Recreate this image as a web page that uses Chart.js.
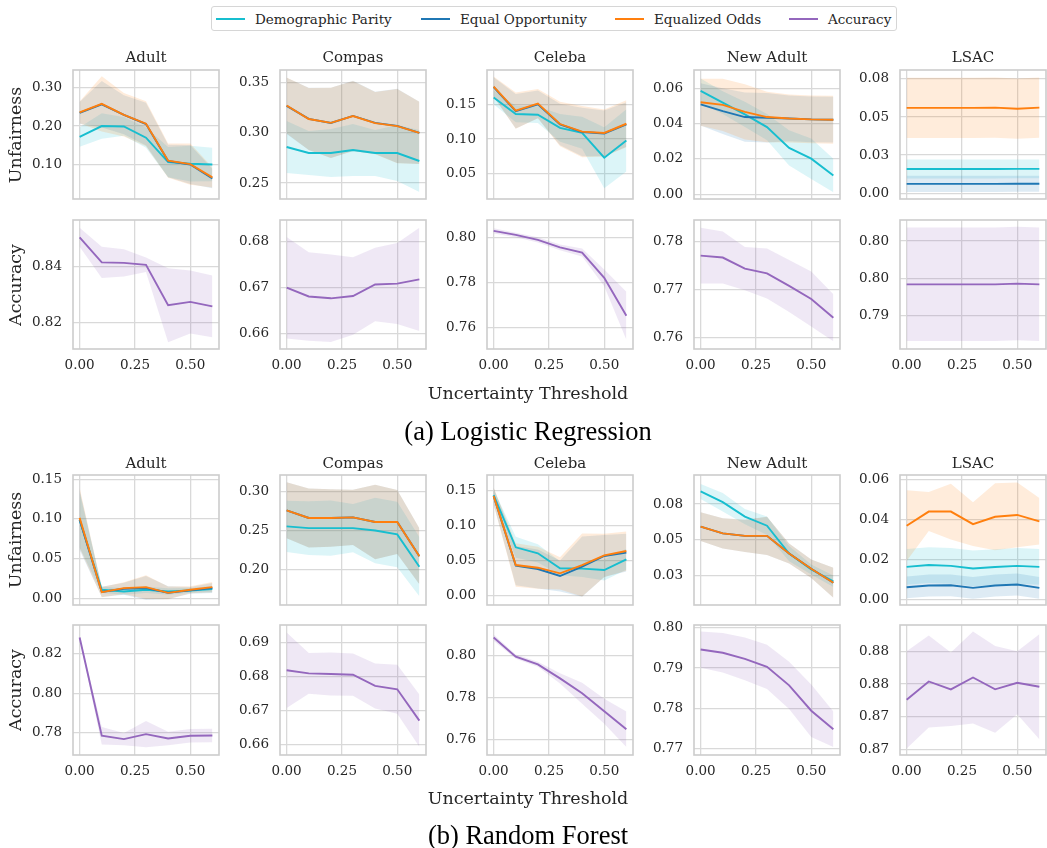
<!DOCTYPE html>
<html>
<head>
<meta charset="utf-8">
<script src="https://cdn.jsdelivr.net/npm/chart.js@4.4.0/dist/chart.umd.min.js"></script>
<style>
  html, body { margin: 0; padding: 0; background: #fff; }
  body { width: 1047px; height: 848px; position: relative; overflow: hidden;
         font-family: "DejaVu Serif", serif; color: #262626; }
  canvas { position: absolute; }
  .txt { position: absolute; white-space: nowrap; transform: translate(-50%, -50%); line-height: 1; }
  .title { font-size: 15px; }
  .axlabel { font-size: 17.5px; }
  .ylab { transform: translate(-50%, -50%) rotate(-90deg); }
  .caption { font-family: "Liberation Serif", "Times New Roman", serif; font-size: 26.5px; color: #000; }
  #legend { position: absolute; left: 211px; top: 6px; width: 686px; height: 25px;
            border: 1px solid #d6d6d6; border-radius: 3px; box-sizing: border-box; }
  .sw { position: absolute; top: 11px; width: 29px; height: 2px; }
  .lt { position: absolute; top: 4px; font-size: 13.5px; line-height: 1.2; }
</style>
</head>
<body>
<div id="legend"></div>
<script>
// x values and labels
const thresholds = [0, 0.1, 0.2, 0.3, 0.4, 0.5, 0.6];
const xTicks = [0, 0.25, 0.5];
const datasetNames = ["Adult", "Compas", "Celeba", "New Adult", "LSAC"];
const seriesNames = ["Demographic Parity", "Equal Opportunity", "Equalized Odds", "Accuracy"];
const modelNames = ["(a) Logistic Regression", "(b) Random Forest"];

// ---- Logistic Regression (rows: Adult, Compas, Celeba, New Adult, LSAC) ----
const lrDP = [
  [0.172, 0.200, 0.199, 0.170, 0.107, 0.103, 0.101],
  [0.286, 0.280, 0.280, 0.283, 0.280, 0.280, 0.272],
  [0.160, 0.136, 0.135, 0.116, 0.109, 0.073, 0.098],
  [0.0587, 0.0520, 0.0453, 0.0381, 0.0263, 0.0202, 0.0107],
  [0.0159, 0.0159, 0.0159, 0.0159, 0.0159, 0.0160, 0.0160]
];
const lrDPsd = [
  [0.025, 0.033, 0.024, 0.026, 0.039, 0.046, 0.043],
  [0.026, 0.022, 0.024, 0.026, 0.023, 0.028, 0.031],
  [0.010, 0.012, 0.012, 0.020, 0.023, 0.044, 0.045],
  [0.0070, 0.0065, 0.0072, 0.0075, 0.0100, 0.0115, 0.0095],
  [0.0062, 0.0062, 0.0062, 0.0062, 0.0062, 0.0062, 0.0062]
];
const lrEO = [
  [0.234, 0.256, 0.229, 0.205, 0.110, 0.101, 0.065],
  [0.327, 0.314, 0.310, 0.317, 0.310, 0.307, 0.300],
  [0.175, 0.140, 0.150, 0.121, 0.110, 0.108, 0.121],
  [0.0510, 0.0472, 0.0438, 0.0434, 0.0430, 0.0425, 0.0423],
  [0.0061, 0.0061, 0.0061, 0.0061, 0.0061, 0.0062, 0.0062]
];
const lrEOsd = [
  [0.028, 0.060, 0.050, 0.055, 0.042, 0.050, 0.025],
  [0.028, 0.031, 0.035, 0.035, 0.031, 0.037, 0.031],
  [0.014, 0.025, 0.020, 0.030, 0.035, 0.033, 0.032],
  [0.012, 0.013, 0.014, 0.014, 0.013, 0.013, 0.013],
  [0.0053, 0.0053, 0.0053, 0.0053, 0.0053, 0.0053, 0.0053]
];
const lrEOdds = [
  [0.235, 0.257, 0.229, 0.206, 0.111, 0.102, 0.068],
  [0.3274, 0.3139, 0.3101, 0.3169, 0.3098, 0.3068, 0.3000],
  [0.1755, 0.1409, 0.1510, 0.1216, 0.1106, 0.1087, 0.1220],
  [0.0522, 0.0507, 0.0467, 0.0438, 0.0430, 0.0425, 0.0423],
  [0.0560, 0.0560, 0.0560, 0.0560, 0.0562, 0.0555, 0.0562]
];
const lrEOddsSd = [
  [0.028, 0.071, 0.056, 0.058, 0.044, 0.053, 0.026],
  [0.028, 0.031, 0.035, 0.035, 0.031, 0.037, 0.031],
  [0.0145, 0.026, 0.021, 0.032, 0.037, 0.034, 0.034],
  [0.0133, 0.0148, 0.0157, 0.0143, 0.0136, 0.0136, 0.0136],
  [0.0198, 0.0198, 0.0198, 0.0198, 0.0198, 0.0198, 0.0198]
];
const lrAcc = [
  [0.8505, 0.8415, 0.8413, 0.8406, 0.8261, 0.8273, 0.8257],
  [0.6700, 0.6681, 0.6677, 0.6682, 0.6707, 0.6709, 0.6718],
  [0.8029, 0.8011, 0.7989, 0.7956, 0.7933, 0.7821, 0.7653],
  [0.7770, 0.7766, 0.7743, 0.7733, 0.7707, 0.7680, 0.7641],
  [0.7942, 0.7942, 0.7942, 0.7942, 0.7942, 0.7943, 0.7942]
];
const lrAccSd = [
  [0.0034, 0.0056, 0.0049, 0.0026, 0.0133, 0.0113, 0.0111],
  [0.0110, 0.0096, 0.0095, 0.0084, 0.0080, 0.0088, 0.0112],
  [0.0012, 0.0010, 0.0012, 0.0013, 0.0018, 0.0037, 0.0106],
  [0.0058, 0.0054, 0.0045, 0.0052, 0.0054, 0.0057, 0.0049],
  [0.0076, 0.0076, 0.0076, 0.0076, 0.0076, 0.0076, 0.0076]
];

// ---- Random Forest ----
const rfDP = [
  [0.0989, 0.0107, 0.0085, 0.0107, 0.0085, 0.0098, 0.0115],
  [0.2556, 0.2534, 0.2534, 0.2534, 0.2504, 0.2453, 0.2039],
  [0.1433, 0.0686, 0.0600, 0.0386, 0.0381, 0.0362, 0.0514],
  [0.0838, 0.0763, 0.0662, 0.0599, 0.0404, 0.0293, 0.0211],
  [0.0163, 0.0172, 0.0168, 0.0155, 0.0162, 0.0168, 0.0163]
];
const rfDPsd = [
  [0.035, 0.004, 0.004, 0.004, 0.004, 0.003, 0.004],
  [0.033, 0.0345, 0.0355, 0.031, 0.042, 0.042, 0.038],
  [0.008, 0.015, 0.013, 0.010, 0.012, 0.015, 0.015],
  [0.0053, 0.0065, 0.0053, 0.0065, 0.0053, 0.0035, 0.0040],
  [0.009, 0.009, 0.009, 0.009, 0.009, 0.009, 0.009]
];
const rfEO = [
  [0.099, 0.008, 0.012, 0.013, 0.007, 0.010, 0.013],
  [0.2763, 0.2664, 0.2664, 0.2672, 0.2612, 0.2612, 0.2172],
  [0.1419, 0.0424, 0.0376, 0.0276, 0.0410, 0.0562, 0.0610],
  [0.0592, 0.0545, 0.0528, 0.0528, 0.0404, 0.0298, 0.0200],
  [0.0060, 0.0069, 0.0070, 0.0057, 0.0069, 0.0074, 0.0057]
];
const rfEOsd = [
  [0.038, 0.0064, 0.0075, 0.015, 0.008, 0.0043, 0.0064],
  [0.036, 0.038, 0.037, 0.0356, 0.0478, 0.041, 0.036],
  [0.012, 0.028, 0.028, 0.022, 0.043, 0.030, 0.027],
  [0.010, 0.0106, 0.0112, 0.0133, 0.0070, 0.0065, 0.0105],
  [0.0055, 0.0055, 0.0055, 0.0055, 0.0055, 0.0055, 0.0055]
];
const rfEOdds = [
  [0.1014, 0.0077, 0.0128, 0.0141, 0.0068, 0.0107, 0.0141],
  [0.2763, 0.2664, 0.2664, 0.2672, 0.2612, 0.2612, 0.2172],
  [0.1419, 0.0433, 0.0395, 0.0314, 0.0433, 0.0571, 0.0633],
  [0.0592, 0.0545, 0.0528, 0.0528, 0.0404, 0.0298, 0.0200],
  [0.0370, 0.0441, 0.0441, 0.0378, 0.0415, 0.0424, 0.0392]
];
const rfEOddsSd = [
  [0.038, 0.0064, 0.0075, 0.015, 0.008, 0.0043, 0.0064],
  [0.036, 0.038, 0.037, 0.0356, 0.0478, 0.041, 0.036],
  [0.012, 0.031, 0.030, 0.023, 0.045, 0.031, 0.028],
  [0.010, 0.0106, 0.0112, 0.0133, 0.0070, 0.0065, 0.0105],
  [0.0178, 0.0098, 0.0140, 0.0110, 0.0169, 0.0163, 0.0117]
];
const rfAcc = [
  [0.8281, 0.7786, 0.7769, 0.7794, 0.7772, 0.7786, 0.7787],
  [0.6819, 0.6810, 0.6808, 0.6806, 0.6773, 0.6763, 0.6671],
  [0.8087, 0.7996, 0.7959, 0.7892, 0.7821, 0.7735, 0.7649],
  [0.7946, 0.7938, 0.7923, 0.7903, 0.7857, 0.7794, 0.7748],
  [0.8738, 0.8752, 0.8746, 0.8755, 0.8746, 0.8751, 0.8748]
];
const rfAccSd = [
  [0.0005, 0.0044, 0.0031, 0.0066, 0.0034, 0.0034, 0.0034],
  [0.0111, 0.0060, 0.0063, 0.0062, 0.0066, 0.0072, 0.0077],
  [0.0015, 0.0010, 0.0012, 0.0025, 0.0050, 0.0060, 0.0085],
  [0.0045, 0.0049, 0.0053, 0.0055, 0.0059, 0.0065, 0.0044],
  [0.0037, 0.0035, 0.0028, 0.0035, 0.0033, 0.0024, 0.0040]
];

// y axis [min, max, tick step] per panel
const lrUnfAxes = [[0.0122, 0.3443, 0.1], [0.2341, 0.3628, 0.05], [0.0135, 0.1995, 0.05], [-0.0027, 0.0705, 0.02], [-0.0038, 0.0809, 0.025]];
const lrAccAxes = [[0.8104, 0.8567, 0.02], [0.6567, 0.6847, 0.01], [0.7506, 0.8077, 0.02], [0.7576, 0.7844, 0.01], [0.78554, 0.80282, 0.005]];
const rfUnfAxes = [[-0.0085, 0.1555, 0.05], [0.1547, 0.3216, 0.05], [-0.0138, 0.1719, 0.05], [0.0045, 0.0953, 0.025], [-0.0029, 0.0625, 0.02]];
const rfAccAxes = [[0.7689, 0.8344, 0.02], [0.657, 0.6952, 0.01], [0.7526, 0.8147, 0.02], [0.7684, 0.8007, 0.01], [0.8696, 0.8795, 0.0025]];

// layout
const colors = { dp: "#17becf", eo: "#1f77b4", eodds: "#ff7f0e", acc: "#9467bd" };
const colLeft = [73, 280, 487, 694, 900];
const rowTop = [70, 220, 475, 625];
const plotH = [129, 129, 130, 130];
const plotW = 146;
const tickFont = { family: "DejaVu Serif", size: 13.5 };
const textColor = "#262626";
const gridColor = "#d9d9d9";

function rgba(hex, a) {
  const n = parseInt(hex.slice(1), 16);
  return `rgba(${n >> 16},${(n >> 8) & 255},${n & 255},${a})`;
}
function pts(arr) {
  return arr.map((y, i) => ({ x: thresholds[i], y }));
}
function yTickValues([min, max, step]) {
  const out = [];
  for (let k = Math.ceil(min / step - 1e-9); k * step <= max + 1e-12; k++) out.push(k * step);
  return out;
}
// series: first one is drawn on top
function buildDatasets(series) {
  const lines = series.map((s) => ({
    data: pts(s.mean), borderColor: s.color, borderWidth: 1.9,
    pointRadius: 0, fill: false, tension: 0
  }));
  const bands = [];
  series.forEach((s) => {
    const idx = lines.length + bands.length;
    bands.push({
      data: pts(s.mean.map((m, i) => m + s.sd[i])), borderWidth: 0, borderColor: "transparent",
      pointRadius: 0, backgroundColor: rgba(s.color, 0.15), fill: idx + 1
    });
    bands.push({
      data: pts(s.mean.map((m, i) => m - s.sd[i])), borderWidth: 0, borderColor: "transparent",
      pointRadius: 0, fill: false
    });
  });
  return lines.concat(bands);
}

const framePlugin = {
  id: "frame",
  afterDatasetsDraw(chart) {
    const { ctx, chartArea: a } = chart;
    ctx.save();
    ctx.strokeStyle = "#cccccc";
    ctx.lineWidth = 1.6;
    ctx.strokeRect(a.left, a.top, a.right - a.left, a.bottom - a.top);
    ctx.restore();
  }
};

function addText(str, x, y, cls) {
  const d = document.createElement("div");
  d.className = "txt " + cls;
  d.textContent = str;
  d.style.left = x + "px";
  d.style.top = y + "px";
  document.body.appendChild(d);
}

function panel(row, col, datasets, axis, showX) {
  const padL = 70, padR = 6, padT = 12, padB = showX ? 34 : 12;
  const w = padL + plotW + padR, h = padT + plotH[row] + padB;
  const c = document.createElement("canvas");
  c.width = w; c.height = h;
  c.style.width = w + "px"; c.style.height = h + "px";
  c.style.left = (colLeft[col] - padL) + "px";
  c.style.top = (rowTop[row] - padT) + "px";
  document.body.appendChild(c);

  new Chart(c, {
    type: "line",
    data: { datasets },
    options: {
      responsive: false, animation: false, devicePixelRatio: 1,
      layout: { padding: { top: padT, right: padR, left: 0, bottom: 0 } },
      plugins: { legend: { display: false }, tooltip: { enabled: false } },
      scales: {
        x: {
          type: "linear", min: -0.03, max: 0.63,
          afterBuildTicks: (s) => { s.ticks = xTicks.map((v) => ({ value: v })); },
          afterFit: (s) => { s.height = padB; s.paddingLeft = 0; s.paddingRight = 0; },
          grid: { color: gridColor, lineWidth: 1.3, drawTicks: false },
          border: { display: false },
          ticks: { display: showX, padding: 8, font: tickFont, color: textColor,
                   maxRotation: 0, callback: (v) => Number(v).toFixed(2) }
        },
        y: {
          type: "linear", min: axis[0], max: axis[1],
          afterBuildTicks: (s) => { s.ticks = yTickValues(axis).map((v) => ({ value: v })); },
          afterFit: (s) => { s.width = padL; s.paddingTop = 0; s.paddingBottom = 0; },
          grid: { color: gridColor, lineWidth: 1.3, drawTicks: false },
          border: { display: false },
          ticks: { padding: 11, font: tickFont, color: textColor,
                   callback: (v) => Number(v).toFixed(2) }
        }
      }
    },
    plugins: [framePlugin]
  });
}

const models = [
  { unfRow: 0, accRow: 1, dp: lrDP, dpSd: lrDPsd, eo: lrEO, eoSd: lrEOsd, eodds: lrEOdds,
    eoddsSd: lrEOddsSd, acc: lrAcc, accSd: lrAccSd, unfAxes: lrUnfAxes, accAxes: lrAccAxes },
  { unfRow: 2, accRow: 3, dp: rfDP, dpSd: rfDPsd, eo: rfEO, eoSd: rfEOsd, eodds: rfEOdds,
    eoddsSd: rfEOddsSd, acc: rfAcc, accSd: rfAccSd, unfAxes: rfUnfAxes, accAxes: rfAccAxes }
];

const titleY = [57, 463];
const xlabelY = [394, 799];
const captionY = [431, 835];

models.forEach((m, mi) => {
  datasetNames.forEach((name, d) => {
    panel(m.unfRow, d, buildDatasets([
      { mean: m.eodds[d], sd: m.eoddsSd[d], color: colors.eodds },
      { mean: m.eo[d], sd: m.eoSd[d], color: colors.eo },
      { mean: m.dp[d], sd: m.dpSd[d], color: colors.dp }
    ]), m.unfAxes[d], false);
    panel(m.accRow, d, buildDatasets([
      { mean: m.acc[d], sd: m.accSd[d], color: colors.acc }
    ]), m.accAxes[d], true);
    addText(name, colLeft[d] + plotW / 2, titleY[mi], "title");
  });
  addText("Unfairness", 16, rowTop[m.unfRow] + plotH[m.unfRow] / 2, "axlabel ylab");
  addText("Accuracy", 16, rowTop[m.accRow] + plotH[m.accRow] / 2, "axlabel ylab");
  addText("Uncertainty Threshold", 528, xlabelY[mi], "axlabel");
  addText(modelNames[mi], 528, captionY[mi], "caption");
});

// legend
const legend = document.getElementById("legend");
const legendColors = [colors.dp, colors.eo, colors.eodds, colors.acc];
const swatchX = [4, 209, 403, 577];
seriesNames.forEach((s, i) => {
  const sw = document.createElement("div");
  sw.className = "sw";
  sw.style.left = swatchX[i] + "px";
  sw.style.background = legendColors[i];
  legend.appendChild(sw);
  const t = document.createElement("div");
  t.className = "lt";
  t.style.left = (swatchX[i] + 39) + "px";
  t.textContent = s;
  legend.appendChild(t);
});
</script>
</body>
</html>
